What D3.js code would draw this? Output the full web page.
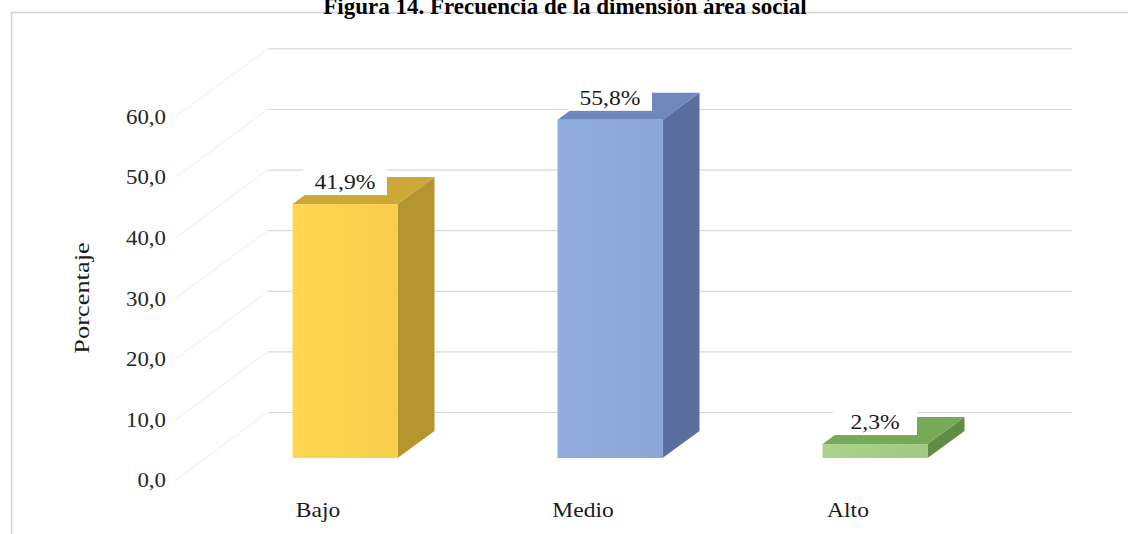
<!DOCTYPE html>
<html>
<head>
<meta charset="utf-8">
<script src="https://cdn.jsdelivr.net/npm/d3@7"></script>
<style>
html,body{margin:0;padding:0;background:#fff;}
svg{display:block;}
text{font-family:"Liberation Serif","Times New Roman",serif;}
</style>
</head>
<body>
<svg id="chart" width="1128" height="534"></svg>
<script>
const categories = ["Bajo", "Medio", "Alto"];
const values = [41.9, 55.8, 2.3];
const valueLabels = ["41,9%", "55,8%", "2,3%"];
const tickValues = [0, 10, 20, 30, 40, 50, 60];
const tickLabels = ["0,0", "10,0", "20,0", "30,0", "40,0", "50,0", "60,0"];
const frontColors = ["#FFD24F", "#8EAADB", "#A6CF8A"];
const topColors = ["#CDA838", "#6F87BB", "#77AA58"];
const sideColors = ["#B4952F", "#5A6E9F", "#5F8D45"];
const titleText = "Figura 14. Frecuencia de la dimensión área social";
const yTitle = "Porcentaje";

const svg = d3.select("#chart");

// chart border
svg.append("rect").attr("x", 11.5).attr("y", 12.5).attr("width", 1130).attr("height", 540)
  .attr("fill", "none").attr("stroke", "#d0d0d0").attr("stroke-width", 1.5);

const y = d3.scaleLinear().domain([0, 60]).range([458, 94.4]);
const x = d3.scalePoint().domain(categories).range([345, 875]);
const barW = 105, dx = 37, dy = 27;
const wallDY = 46, labelDY = 22;
const wallX0 = 268, wallX1 = 1072, floorFrontX = 176;

// back wall gridlines
svg.append("g").selectAll("line").data(tickValues).join("line")
  .attr("x1", wallX0).attr("x2", wallX1)
  .attr("y1", d => y(d) - wallDY + 0.5).attr("y2", d => y(d) - wallDY + 0.5)
  .attr("stroke", "#d9d9d9").attr("stroke-width", 1.2);

// side wall diagonals
svg.append("g").selectAll("line").data(tickValues).join("line")
  .attr("x1", floorFrontX).attr("y1", d => y(d) + labelDY)
  .attr("x2", wallX0).attr("y2", d => y(d) - wallDY)
  .attr("stroke", "#f2f2f2").attr("stroke-width", 1.2);

// y tick labels
svg.append("g").selectAll("text").data(tickValues).join("text")
  .attr("transform", d => `translate(166,${y(d) + labelDY}) scale(1.09,1)`)
  .attr("dy", "0.35em").attr("text-anchor", "end")
  .attr("font-size", 21).attr("fill", "#262626")
  .text((d, i) => tickLabels[i]);

// bars
const defs = svg.append("defs");
const bars = svg.append("g").selectAll("g").data(categories).join("g");
bars.each(function(c, i) {
  const g = d3.select(this);
  const x0 = x(c) - barW / 2, x1 = x0 + barW;
  const yt = y(values[i]), yb = y(0);
  const gid = "grad" + i;
  const lg = defs.append("linearGradient").attr("id", gid).attr("x1", 0).attr("x2", 1).attr("y1", 0).attr("y2", 0);
  lg.append("stop").attr("offset", 0).attr("stop-color", d3.color(frontColors[i]).brighter(0.05));
  lg.append("stop").attr("offset", 1).attr("stop-color", d3.color(frontColors[i]).darker(0.08));
  g.append("path")
    .attr("d", `M${x1},${yt}L${x1 + dx},${yt - dy}L${x1 + dx},${yb - dy}L${x1},${yb}Z`)
    .attr("fill", sideColors[i]);
  g.append("path")
    .attr("d", `M${x0},${yt}L${x0 + dx},${yt - dy}L${x1 + dx},${yt - dy}L${x1},${yt}Z`)
    .attr("fill", topColors[i]);
  g.append("rect").attr("x", x0).attr("y", yt).attr("width", barW).attr("height", yb - yt)
    .attr("fill", `url(#${gid})`);
});

// value labels
const lbl = svg.append("g").selectAll("g").data(categories).join("g")
  .attr("transform", (c, i) => `translate(${x(c)},${y(values[i]) - 22})`);
lbl.append("rect").attr("x", -42).attr("y", -13).attr("width", 84).attr("height", 26).attr("fill", "#fff");
lbl.append("text").attr("text-anchor", "middle").attr("dy", "0.35em")
  .attr("transform", "scale(1.18,1)")
  .attr("font-size", 20).attr("fill", "#1a1a1a")
  .text((c, i) => valueLabels[i]);

// category labels
svg.append("g").selectAll("text").data(categories).join("text")
  .attr("transform", c => `translate(${x(c) - 27},510) scale(1.12,1)`)
  .attr("dy", "0.35em").attr("text-anchor", "middle")
  .attr("font-size", 21).attr("fill", "#1a1a1a")
  .text(c => c);

// y axis title
svg.append("text").attr("transform", "translate(81,298) rotate(-90) scale(1.2,1)")
  .attr("text-anchor", "middle").attr("dy", "0.35em")
  .attr("font-size", 22).attr("fill", "#1a1a1a").text(yTitle);

// title
svg.append("text").attr("x", 565).attr("y", 14).attr("text-anchor", "middle")
  .attr("font-size", 23).attr("font-weight", "bold").attr("fill", "#000")
  .text(titleText);
</script>
</body>
</html>
